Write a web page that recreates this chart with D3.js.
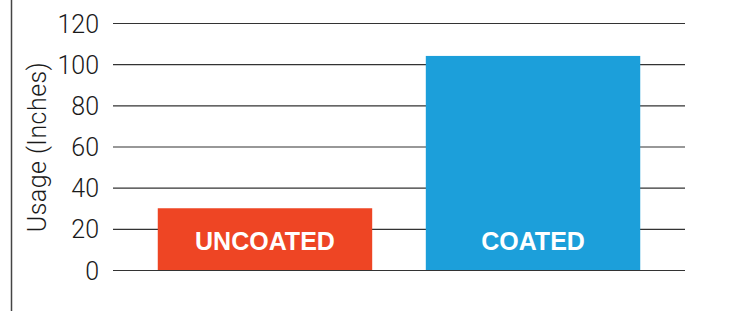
<!DOCTYPE html>
<html><head><meta charset="utf-8">
<script src="https://cdn.jsdelivr.net/npm/d3@7"></script>
<style>html,body{margin:0;padding:0;background:#fff;}svg{display:block;}</style>
</head><body>
<svg id="c" width="730" height="311"></svg>
<script>
const categories = ["UNCOATED", "COATED"];
const values = [30, 104];
const colors = ["#ee4524", "#1c9fda"];
const yTicks = [0, 20, 40, 60, 80, 100, 120];
const yTitle = "Usage (Inches)";

const svg = d3.select("#c");
const mLeft = 113, mRight = 685, mTop = 23, mBottom = 270;

// left border
svg.append("line").attr("x1", 11.5).attr("x2", 11.5).attr("y1", 0).attr("y2", 311)
  .attr("stroke", "#444").attr("stroke-width", 1.5);

const y = d3.scaleLinear().domain([0, 120]).range([mBottom, mTop]);
const x = d3.scaleBand().domain(categories).range([mLeft, mRight])
  .paddingInner(0.2).paddingOuter(0.167);

const yAxis = d3.axisLeft(y).tickValues(yTicks).tickSize(-(mRight - mLeft)).tickPadding(14);
const g = svg.append("g").attr("transform", `translate(${mLeft},0)`).call(yAxis);
g.select(".domain").remove();
g.selectAll(".tick line").attr("stroke", "#333").attr("stroke-width", 1.2);
g.selectAll(".tick text").attr("font-family", "Roboto, sans-serif").attr("font-weight", 300)
  .attr("font-size", 25).attr("fill", "#1a1a1a").attr("dy", "0.36em");

const title = svg.append("text").attr("transform", `translate(46,147) rotate(-90)`)
  .attr("text-anchor", "middle").attr("font-family", "Roboto, sans-serif").attr("font-weight", 300)
  .attr("font-size", 25).attr("fill", "#1a1a1a").text(yTitle);
const tl = title.node().getComputedTextLength();
title.attr("letter-spacing", Math.max(0, (170 - tl) / (yTitle.length - 1)));

svg.append("g").selectAll("rect").data(categories).join("rect")
  .attr("x", d => x(d)).attr("width", x.bandwidth())
  .attr("y", (d, i) => y(values[i])).attr("height", (d, i) => y(0) - y(values[i]))
  .attr("fill", (d, i) => colors[i]);

svg.append("g").selectAll("text").data(categories).join("text")
  .attr("x", d => x(d) + x.bandwidth() / 2).attr("y", y(0) - 20)
  .attr("text-anchor", "middle").attr("font-family", "'Liberation Sans', Arial, sans-serif")
  .attr("font-weight", 700).attr("font-size", 25).attr("fill", "#fff").text(d => d);
</script>
</body></html>
